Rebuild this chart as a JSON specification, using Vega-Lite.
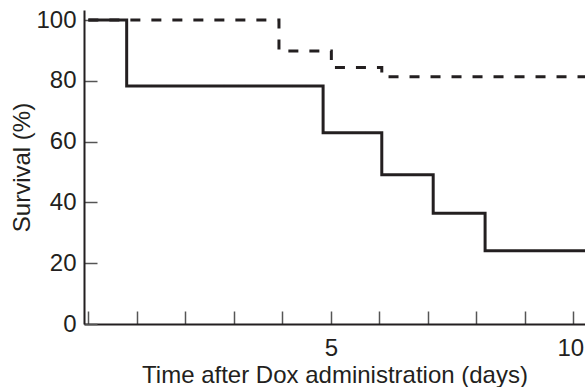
{
  "$schema": "https://vega.github.io/schema/vega-lite/v6.json",
  "width": 501,
  "height": 314,
  "autosize": {"type": "none"},
  "padding": {"left": 84, "top": 10, "right": 0, "bottom": 63},
  "background": "white",
  "config": {
    "view": {"stroke": null},
    "font": "Liberation Sans",
    "axis": {
      "labelFont": "Liberation Sans",
      "titleFont": "Liberation Sans",
      "labelFontSize": 24,
      "titleFontSize": 24,
      "titleFontWeight": "normal",
      "labelColor": "#231f20",
      "titleColor": "#231f20",
      "domainColor": "#231f20",
      "tickColor": "#555555",
      "domainWidth": 2,
      "tickWidth": 1.5,
      "grid": false
    }
  },
  "data": {
    "values": [
      {"group": "A", "day": 0, "survival": 100},
      {"group": "A", "day": 0.79, "survival": 78.3},
      {"group": "A", "day": 4.84, "survival": 62.9},
      {"group": "A", "day": 6.05, "survival": 49.1},
      {"group": "A", "day": 7.11, "survival": 36.4},
      {"group": "A", "day": 8.18, "survival": 24.1},
      {"group": "A", "day": 10.3, "survival": 24.1},
      {"group": "B", "day": 0, "survival": 100},
      {"group": "B", "day": 3.93, "survival": 89.8},
      {"group": "B", "day": 5.01, "survival": 84.4},
      {"group": "B", "day": 6.05, "survival": 81.3},
      {"group": "B", "day": 10.3, "survival": 81.3}
    ]
  },
  "mark": {"type": "line", "interpolate": "step-after", "clip": true, "strokeWidth": 3, "color": "#231f20"},
  "encoding": {
    "x": {
      "field": "day",
      "type": "quantitative",
      "scale": {"domain": [-0.09, 10.24], "nice": false, "zero": false},
      "axis": {
        "title": "Time after Dox administration (days)",
        "values": [0, 1, 2, 3, 4, 5, 6, 7, 8, 9, 10],
        "labelExpr": "datum.value == 5 || datum.value == 10 ? datum.label : ''",
        "labelOffset": {"condition": {"test": "datum.value == 10", "value": -3}, "value": 0},
        "tickSize": -13,
        "labelPadding": 25,
        "titlePadding": 3,
        "labelFlush": false,
        "labelOverlap": false
      }
    },
    "y": {
      "field": "survival",
      "type": "quantitative",
      "scale": {"domain": [0, 103.3], "nice": false},
      "axis": {
        "title": "Survival (%)",
        "values": [0, 20, 40, 60, 80, 100],
        "tickSize": -13,
        "labelPadding": 21,
        "titlePadding": 1,
        "labelFlush": false,
        "labelOverlap": false
      }
    },
    "strokeDash": {
      "field": "group",
      "type": "nominal",
      "scale": {"domain": ["A", "B"], "range": [[1, 0], [10, 11]]},
      "legend": null
    }
  }
}
